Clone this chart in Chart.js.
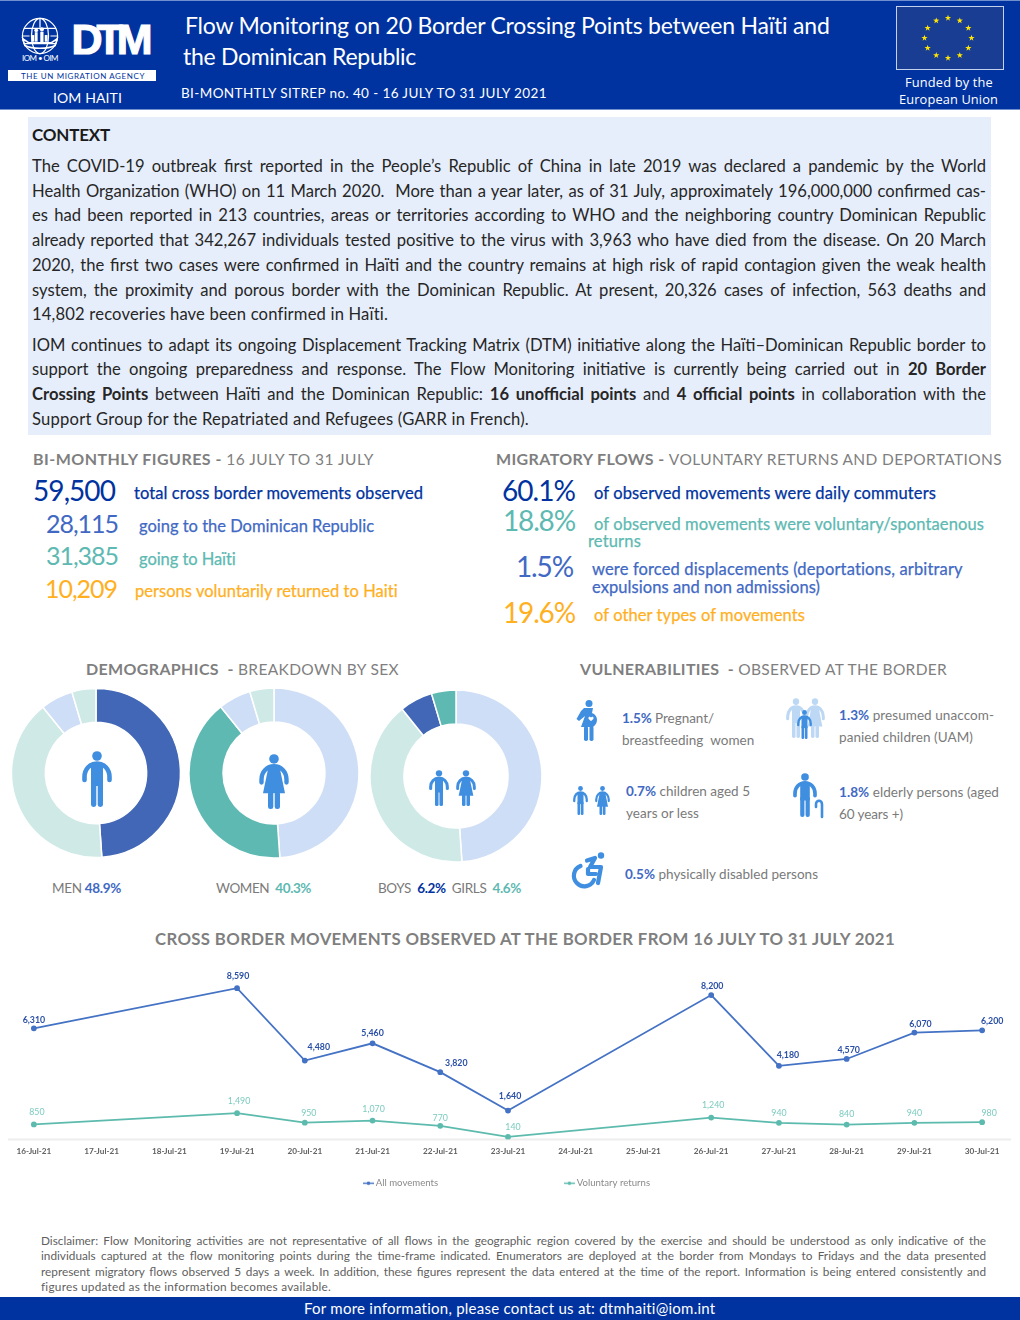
<!DOCTYPE html>
<html><head><meta charset="utf-8">
<script src="https://cdn.jsdelivr.net/npm/chart.js@4"></script>
<style>
html,body{margin:0;padding:0;background:#fff}
#p{position:relative;width:1020px;height:1320px;overflow:hidden;font-family:Lato,sans-serif}
.t{position:absolute;white-space:pre;display:inline-block}
canvas{position:absolute}
svg{position:absolute;overflow:visible}
</style></head><body><div id="p"></div>
<script>
const days=['16-Jul-21','17-Jul-21','18-Jul-21','19-Jul-21','20-Jul-21','21-Jul-21','22-Jul-21','23-Jul-21','24-Jul-21','25-Jul-21','26-Jul-21','27-Jul-21','28-Jul-21','29-Jul-21','30-Jul-21'];
const allMovements=[6310,null,null,8590,4480,5460,3820,1640,null,null,8200,4180,4570,6070,6200];
const voluntaryReturns=[850,null,null,1490,950,1070,770,140,null,null,1240,940,840,940,980];
const sexLabels=['Men','Women','Boys','Girls'];
const sexValues=[48.9,40.3,6.2,4.6];

const NAVY='#0033A0',BLUE='#4169C4',TEAL='#5DB9B2',AMB='#FFB01F',GREY='#7F7F7F',ICON='#3F8EE0',LG='#CFEAE6',LB='#CEDEF6',DK='#4267B7';
const P=document.getElementById('p');
function box(x,y,w,h,bg,extra){const d=document.createElement('div');d.style.cssText=`position:absolute;left:${x}px;top:${y}px;width:${w}px;height:${h}px;background:${bg};${extra||''}`;P.appendChild(d);return d;}
function T(x,cy,w,size,color,html,extra,mode){const d=document.createElement('div');d.className='t';
 d.style.cssText=`left:${x}px;top:${cy-size*0.75}px;line-height:${size*1.5}px;font-size:${size}px;color:${color};${extra||''}`;d.innerHTML=html;P.appendChild(d);
 if(w){const n=d.getBoundingClientRect().width;const s=d.textContent;
  if(mode==='w'){const c=(s.match(/ /g)||[]).length;if(c)d.style.wordSpacing=((w-n)/c)+'px';}
  else d.style.letterSpacing=((w-n)/s.length)+'px';}
 return d;}
function svg(x,y,w,h,vb,inner,par){const s=document.createElementNS('http://www.w3.org/2000/svg','svg');s.setAttribute('viewBox',vb);s.setAttribute('width',w);s.setAttribute('height',h);s.setAttribute('preserveAspectRatio',par||'none');s.style.left=x+'px';s.style.top=y+'px';s.innerHTML=inner;P.appendChild(s);return s;}
const b=(c)=>`color:${c};font-weight:700`;

/* header */
box(0,0,1020,109.5,NAVY,'border-top:1px solid #6f8fce;border-bottom:1px solid #6f8fce;box-sizing:border-box');
svg(21,17,38,38,'0 0 40 40',`<g fill="none" stroke="#fff" stroke-width="1.3"><circle cx="20" cy="20" r="18.5"/><ellipse cx="20" cy="20" rx="9" ry="18.5"/><path d="M20 1.5V11M3 12H37M1.5 20H9M31 20H38.5M3 28H37"/><path d="M4 30C12 34 28 34 36 30L38 23 32 27H8L2 23Z" stroke-width="1.6"/></g><g fill="#fff"><circle cx="16" cy="14" r="2"/><circle cx="22" cy="13" r="2.2"/><rect x="14.5" y="16" width="3" height="10"/><rect x="20.3" y="15.5" width="3.4" height="11"/><rect x="11" y="19" width="3" height="7"/><rect x="25" y="19" width="3" height="7"/></g>`);
T(22,58,36,8,'#fff','IOM • OIM');
T(71.5,39.500,75,43,'#fff','DTM',"font-family:'Liberation Sans';font-weight:700;-webkit-text-stroke:1.2px #fff");
box(8,70,148,11,'#fff');
T(21,76,124,8,NAVY,'THE UN MIGRATION AGENCY');
T(53,97.500,69,14,'#fff','IOM HAITI');
T(185,25.500,645,23,'#fff','Flow Monitoring on 20 Border Crossing Points between Haïti and');
T(183,56.500,233,23,'#fff','the Dominican Republic');
T(181,93.500,366,13.5,'#fff','BI-MONTHTLY SITREP no. 40 - 16 JULY TO 31 JULY 2021');
box(896,6,108,64,'#1A3D94','border:1px solid #c3d1ec;box-sizing:border-box');
let st='';for(let i=0;i<12;i++){const a=i*Math.PI/6,cx=948+23.5*Math.sin(a),cy=38-20*Math.cos(a);let pts=[];for(let k=0;k<10;k++){const r=k%2?1.3:3.3,q=k*Math.PI/5;pts.push((cx+r*Math.sin(q)).toFixed(1)+','+(cy-r*Math.cos(q)).toFixed(1));}st+=`<polygon fill="#FFE600" points="${pts.join(' ')}"/>`;}
svg(0,0,1020,109,'0 0 1020 109',st);
T(905,82.5,88,12.8,'#fff','Funded by the',"font-family:'Open Sans'");
T(899,99.5,99,12.8,'#fff','European Union',"font-family:'Open Sans'");

/* context */
box(28,117,963,318,'#E6EEFB');
T(32,135,78,17,'#1a1a1a','CONTEXT','font-weight:700');
const ctx=[[166,'The COVID-19 outbreak first reported in the People’s Republic of China in late 2019 was declared a pandemic by the World'],
[191,'Health Organization (WHO) on 11 March 2020.  More than a year later, as of 31 July, approximately 196,000,000 confirmed cas-'],
[215,'es had been reported in 213 countries, areas or territories according to WHO and the neighboring country Dominican Republic'],
[240,'already reported that 342,267 individuals tested positive to the virus with 3,963 who have died from the disease. On 20 March'],
[265,'2020, the first two cases were confirmed in Haïti and the country remains at high risk of rapid contagion given the weak health'],
[290,'system, the proximity and porous border with the Dominican Republic. At present, 20,326 cases of infection, 563 deaths and'],
[345,'IOM continues to adapt its ongoing Displacement Tracking Matrix (DTM) initiative along the Haïti–Dominican Republic border to'],
[369,'support the ongoing preparedness and response. The Flow Monitoring initiative is currently being carried out in <b>20 Border</b>'],
[394,'<b>Crossing Points</b> between Haïti and the Dominican Republic: <b>16 unofficial points</b> and <b>4 official points</b> in collaboration with the']];
ctx.forEach(([y,s])=>T(32,y,954,16.6,'#262626',s,'','w'));
T(32,314,356,16.6,'#262626','14,802 recoveries have been confirmed in Haïti.');
T(32,419,497,16.6,'#262626','Support Group for the Repatriated and Refugees (GARR in French).');

/* figures */
T(33,459,341,16,GREY,'<b>BI-MONTHLY FIGURES - </b><span style="font-size:15.5px;font-weight:400">16 JULY TO 31 JULY</span>');
T(496,459,506,16,GREY,'<b>MIGRATORY FLOWS - </b><span style="font-size:15.5px;font-weight:400">VOLUNTARY RETURNS AND DEPORTATIONS</span>');
[[33,490,82,28,NAVY,'59,500'],[46,524,72,25,BLUE,'28,115'],[46,556,72,25,TEAL,'31,385'],[45,589,72,25,AMB,'10,209'],
 [502,490,73,28,NAVY,'60.1%'],[503,520,72,28,TEAL,'18.8%'],[516,566,57,28,BLUE,'1.5%'],[503,612,72,28,AMB,'19.6%']].forEach(r=>T(r[0],r[1],r[2],r[3],r[4],r[5]));
[[134,493,289,NAVY,'total cross border movements observed'],[139,526,235,BLUE,'going to the Dominican Republic'],[139,559,97,TEAL,'going to Haïti'],[135,591,263,AMB,'persons voluntarily returned to Haiti'],
 [594,493,342,NAVY,'of observed movements were daily commuters'],[594,524,390,TEAL,'of observed movements were voluntary/spontaenous'],[588,541,53,TEAL,'returns'],
 [592,569,371,BLUE,'were forced displacements (deportations, arbitrary'],[592,587,228,BLUE,'expulsions and non admissions)'],[594,615,211,AMB,'of other types of movements']].forEach(r=>T(r[0],r[1],r[2],16.5,r[3],r[4],'-webkit-text-stroke:0.25px currentColor'));

/* section heads */
T(86,669,313,16,GREY,'<b>DEMOGRAPHICS  - </b><span style="font-size:15.5px;font-weight:400">BREAKDOWN BY SEX</span>');
T(580,669,367,16,GREY,'<b>VULNERABILITIES  - </b><span style="font-size:15.5px;font-weight:400">OBSERVED AT THE BORDER</span>');
T(155,939,740,16.8,GREY,'CROSS BORDER MOVEMENTS OBSERVED AT THE BORDER FROM 16 JULY TO 31 JULY 2021','font-weight:700');

/* demog labels */
const G2='#7a7a7a';
T(52,888,69,13.5,G2,`MEN <span style="${b(BLUE)}">48.9%</span>`);
T(216,888,95,13.5,G2,`WOMEN  <span style="${b(TEAL)}">40.3%</span>`);
T(378,888,143,13.5,G2,`BOYS  <span style="${b(NAVY)}">6.2%</span>  GIRLS  <span style="${b(TEAL)}">4.6%</span>`);

/* icons */
const man=(c=ICON)=>`<g fill="${c}" stroke="none"><circle cx="15" cy="5" r="4.8"/><path d="M2.5 29V26C2.5 18 8 12.5 15 12.5S27.5 18 27.5 26V29" fill="none" stroke="${c}" stroke-width="4.6" stroke-linecap="round"/><rect x="9" y="13" width="12" height="22"/><rect x="9" y="30" width="5.3" height="26" rx="2.4"/><rect x="15.7" y="30" width="5.3" height="26" rx="2.4"/></g>`;
const woman=(c=ICON)=>`<g fill="${c}"><circle cx="15" cy="5" r="4.8"/><path d="M2.5 29V26C2.5 18 8 12.5 15 12.5S27.5 18 27.5 26V29" fill="none" stroke="${c}" stroke-width="4.4" stroke-linecap="round"/><path d="M9.5 13H20.5L26 40H4Z"/><rect x="9" y="38" width="5.3" height="18" rx="2.4"/><rect x="15.7" y="38" width="5.3" height="18" rx="2.4"/></g>`;
const V='0 0 30 56';
svg(82,751,30,56,V,man());svg(259,754,30,55,V,woman());svg(429,769.5,20,36,V,man());svg(456,769.5,20,36,V,woman());
svg(573,786,15,29,V,man());svg(595,786,15,29,V,woman());
svg(786,698,20,40,V,man('#BDD8F5'));svg(805,698,20,40,V,woman('#BDD8F5'));svg(797,710,15,29,V,man());
svg(793,773,24,44,V,man());
svg(814,799,10,18,'0 0 10 18',`<path d="M2 8V5.5C2 3 3.5 1.8 5 1.8S8 3 8 5.5V18" fill="none" stroke="${ICON}" stroke-width="2.6" stroke-linecap="round"/>`);
svg(574,700,24,41,'0 0 24 41',`<g fill="${ICON}"><circle cx="15" cy="3.5" r="3.5"/><path d="M10 8H19L18 13C24 15 25 23 19 27H7L11 16 5 21 2.5 19 7 11Z"/><rect x="10" y="26" width="4" height="15" rx="1.8"/><rect x="15.5" y="26" width="4" height="15" rx="1.8"/></g><path d="M17 17.5c1-1.3 3-.5 2.5 1-.3 1-1.5 1.8-2.5 2.6-1-.8-2.2-1.6-2.5-2.6-.5-1.500 1.500-2.300 2.500-1z" fill="#fff"/>`);
svg(570,852,36,36,'0 0 36 36',`<g fill="none" stroke="${ICON}" stroke-width="4.2" stroke-linecap="round" stroke-linejoin="round"><path d="M10.5 14A10.500 10.500 0 1 0 24 28"/><path d="M17 8.500L25 6 20 15H31L28 31"/><path d="M18 17L18 22H26"/></g><circle cx="31" cy="3.500" r="3.200" fill="${ICON}"/>`);

/* vulnerabilities */
const bl=(s)=>`<span style="color:${BLUE};font-weight:700">${s}</span>`;
[[622,718,92,`${bl('1.5%')} Pregnant/`],[622,740,132,'breastfeeding  women'],[839,715.5,155,`${bl('1.3%')} presumed unaccom-`],[839,737,134,'panied children (UAM)'],
 [626,791,124,`${bl('0.7%')} children aged 5`],[626,813,73,'years or less'],[839,792,160,`${bl('1.8%')} elderly persons (aged`],[839,814,64,'60 years +)'],[625,874,193,`${bl('0.5%')} physically disabled persons`]]
 .forEach(r=>T(r[0],r[1],r[2],13.5,G2,r[3]));

/* disclaimer + footer */
const DC='#5f5f5f';
T(41,1241,945,11.8,DC,'Disclaimer: Flow Monitoring activities are not representative of all flows in the geographic region covered by the exercise and should be understood as only indicative of the','','w');
T(41,1256,945,11.8,DC,'individuals captured at the flow monitoring points during the time-frame indicated. Enumerators are deployed at the border from Mondays to Fridays and the data presented','','w');
T(41,1272,945,11.8,DC,'represent migratory flows observed 5 days a week. In addition, these figures represent the data entered at the time of the report. Information is being entered consistently and','','w');
T(41,1287,290,11.8,DC,'figures updated as the information becomes available.');
box(0,1297,1020,23,NAVY);
T(304,1308.500,412,15,'#fff','For more information, please contact us at: dtmhaiti@iom.int');

/* charts */
function mk(x,y,w,h){const c=document.createElement('canvas');c.width=w;c.height=h;c.style.cssText=`left:${x}px;top:${y}px;width:${w}px;height:${h}px`;P.appendChild(c);return c;}
[[[DK,LG,LB,LG],95.5,772.5,84.5,53.5],[[LB,TEAL,LB,LG],274,773,85,53.5],[[LB,LG,DK,TEAL],456,776,86,54]].forEach(([cols,cx,cy,r,ir])=>{
 new Chart(mk(cx-90,cy-90,180,180),{type:'doughnut',data:{labels:sexLabels,datasets:[{data:sexValues,backgroundColor:cols,borderColor:'#fff',borderWidth:1.5}]},
  options:{responsive:false,animation:false,radius:r,cutout:ir,plugins:{legend:{display:false},tooltip:{enabled:false}}}});
});

const nudgeAll=[[0,-8.5],,,[1,-12],[14,-13],[0,-10],[16,-9],[2,-14],,,[1,-9],[9,-11],[2,-9],[6,-8],[10,-9]];
const nudgeVol=[[3,-12],,,[2,-12],[4,-10],[1,-11],[0,-8],[5,-10],,,[2,-12],[0,-10],[0,-10],[0,-10],[7,-9]];
const valueLabels={id:'valueLabels',afterDatasetsDraw(ch){const g=ch.ctx;g.save();g.textAlign='center';g.textBaseline='middle';
 ch.data.datasets.forEach((ds,i)=>{const m=ch.getDatasetMeta(i),n=i?nudgeVol:nudgeAll;g.font=(i?'':'bold ')+'8.8px Lato';g.fillStyle=i?'#7CCBBF':'#2A4FA6';
  ds.data.forEach((v,k)=>{if(v==null)return;const p=m.data[k];g.fillText(v.toLocaleString('en-US'),p.x+n[k][0],p.y+n[k][1]);});});g.restore();}};
const baseLine={id:'baseLine',beforeDatasetsDraw(ch){const g=ch.ctx,y=ch.scales.y.getPixelForValue(0);g.save();g.strokeStyle='#EDEDED';g.lineWidth=2;g.beginPath();g.moveTo(8,y);g.lineTo(1011,y);g.stroke();g.restore();}};
function mark(c){const k=document.createElement('canvas');k.width=11;k.height=5;const g=k.getContext('2d');g.strokeStyle=c;g.fillStyle=c;g.lineWidth=1.4;g.beginPath();g.moveTo(0,2.5);g.lineTo(11,2.5);g.stroke();g.beginPath();g.arc(5.5,2.5,1.8,0,7);g.fill();return k;}
const lineColors=['#4472C4','#5DBBAE'];
new Chart(mk(0,960,1020,240),{type:'line',data:{labels:days,datasets:[
 {label:'All movements',data:allMovements,borderColor:lineColors[0],backgroundColor:lineColors[0],borderWidth:1.8,pointRadius:2,spanGaps:true,tension:0},
 {label:'Voluntary returns',data:voluntaryReturns,borderColor:lineColors[1],backgroundColor:lineColors[1],borderWidth:1.8,pointRadius:2,spanGaps:true,tension:0}]},
 options:{responsive:false,animation:false,layout:{autoPadding:false,padding:{top:21,right:4,left:0,bottom:2}},
  scales:{y:{display:false,min:0,max:9000},x:{offset:true,grid:{display:false},border:{display:false},afterFit(s){s.height=33;},
   ticks:{autoSkip:false,maxRotation:0,minRotation:0,padding:-1,color:'#5f5f5f',font:{family:'Lato',size:8.2,weight:'bold'}}}},
  plugins:{tooltip:{enabled:false},legend:{position:'bottom',labels:{usePointStyle:true,boxWidth:5,padding:6,color:'#8a8a8a',font:{family:'Lato',size:9.6},
   generateLabels(ch){return ch.data.datasets.map((d,i)=>({text:i==0?d.label+'\u00A0'.repeat(50):d.label,fontColor:'#8a8a8a',pointStyle:mark(lineColors[i]),datasetIndex:i,lineWidth:0,strokeStyle:'transparent',fillStyle:'transparent'}));}}}}},
 plugins:[valueLabels,baseLine]});
</script></body></html>
